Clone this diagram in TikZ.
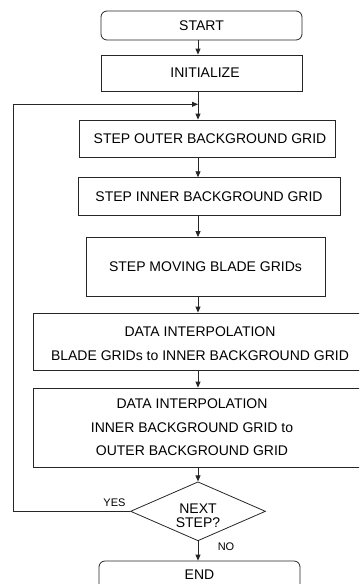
\documentclass[tikz,border=0pt]{standalone}
\usepackage{fontspec}
\setmainfont{Liberation Sans}
\usetikzlibrary{arrows.meta,shapes.geometric}
\begin{document}
\begin{tikzpicture}[x=1pt,y=-1pt,
  line/.style={draw=black!85, line width=0.8pt},
  box/.style={line, rectangle, inner sep=0pt},
  term/.style={box, rounded corners=6pt},
  txt/.style={font=\fontsize{14}{23.5}\selectfont, align=center, inner sep=0pt},
  flow/.style={line, -{Triangle[length=6pt,width=5pt]}},
  tag/.style={font=\fontsize{11}{13}\selectfont, inner sep=0pt}]
\clip (0,0) rectangle (359,584);
\useasboundingbox (0,0) rectangle (359,584);

% main flow line runs down this x position
\coordinate (spine) at (198,0);

% boxes
\node[term, minimum width=201pt, minimum height=29pt] (start) at (201.5,25.5) {};
\node[txt] (startT) at (201.5,25.5) {START};

\node[box, minimum width=201pt, minimum height=36pt] (init) at (201.5,73) {};
\node[txt] (initT) at (205,73) {INITIALIZE};

\node[box, minimum width=256pt, minimum height=37pt] (outer) at (207,138.5) {};
\node[txt] (outerT) at (210,138.5) {STEP OUTER BACKGROUND GRID};

\node[box, minimum width=262pt, minimum height=38pt] (inner) at (209,196.7) {};
\node[txt] (innerT) at (209,196.7) {STEP INNER BACKGROUND GRID};

\node[box, minimum width=239pt, minimum height=59pt] (moving) at (205.5,267) {};
\node[txt] (movingT) at (205.5,267) {STEP MOVING BLADE GRIDs};

\node[box, minimum width=334pt, minimum height=57pt] (interpA) at (200,341.5) {};
\node[txt] (interpAT) at (200,343.5) {DATA INTERPOLATION\\BLADE GRIDs to INNER BACKGROUND GRID};

\node[box, minimum width=334pt, minimum height=79pt] (interpB) at (200,427.5) {};
\node[txt] (interpBT) at (192,427.5) {DATA INTERPOLATION\\INNER BACKGROUND GRID to\\OUTER BACKGROUND GRID};

\node[line, diamond, minimum width=135pt, minimum height=59pt, inner sep=0pt] (next) at (198,511.3) {};
\node[txt, font=\fontsize{14}{14.5}\selectfont] (nextT) at (198,515.5) {NEXT\\STEP?};

\node[term, minimum width=201pt, minimum height=40pt] (stop) at (199.5,581) {};
\node[txt] (stopT) at (199.5,575) {END};

% connectors
\draw[flow] (start.south -| spine) -- (init.north -| spine);
\draw[flow] (init.south -| spine) -- (outer.north -| spine);
\draw[flow] (outer.south -| spine) -- (inner.north -| spine);
\draw[flow] (inner.south -| spine) -- (moving.north -| spine);
\draw[flow] (moving.south -| spine) -- (interpA.north -| spine);
\draw[flow] (interpA.south -| spine) -- (interpB.north -| spine);
\draw[flow] (interpB.south -| spine) -- (next.north);
\draw[flow] (next.south) -- (stop.north -| spine);

% return loop
\coordinate (loopL) at (13,511.3);
\coordinate (loopT) at (13,104.3);
\coordinate (merge) at (198,104.3);
\draw[flow] (next.west) -- (loopL) -- (loopT) -- (merge);

\node[tag] (yes) at (114.5,502.5) {YES};
\node[tag] (no) at (226,547) {NO};
\end{tikzpicture}
\end{document}
